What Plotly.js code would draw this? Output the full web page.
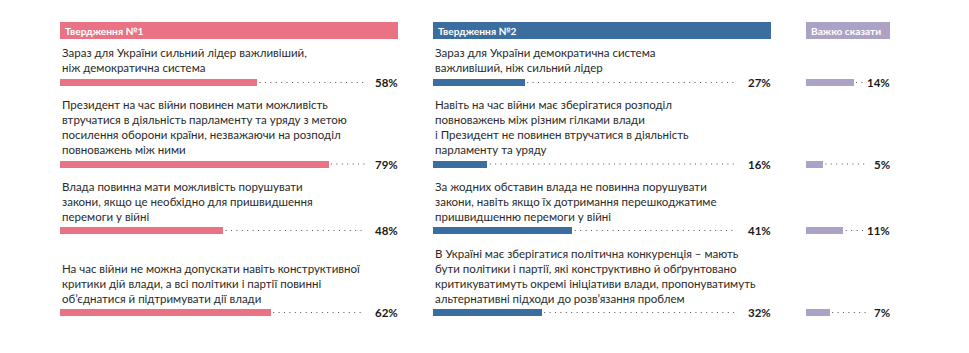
<!DOCTYPE html>
<html>
<head>
<meta charset="utf-8">
<script src="https://cdn.plot.ly/plotly-3.0.1.min.js"></script>
<style>html,body{margin:0;padding:0;background:#fff;}#chart{width:969px;height:353px;}</style>
</head>
<body>
<div id="chart"></div>
<script>
// ---- data ----
const headers = ["Твердження №1", "Твердження №2", "Важко сказати"];
const statements1 = [
  "Зараз для України сильний лідер важливіший,<br>ніж демократична система",
  "Президент на час війни повинен мати можливість<br>втручатися в діяльність парламенту та уряду з метою<br>посилення оборони країни, незважаючи на розподіл<br>повноважень між ними",
  "Влада повинна мати можливість порушувати<br>закони, якщо це необхідно для пришвидшення<br>перемоги у війні",
  "На час війни не можна допускати навіть конструктивної<br>критики дій влади, а всі політики і партії повинні<br>об’єднатися й підтримувати дії влади"
];
const values1 = [58, 79, 48, 62];
const statements2 = [
  "Зараз для України демократична система<br>важливіший, ніж сильний лідер",
  "Навіть на час війни має зберігатися розподіл<br>повноважень між різним гілками влади<br>і Президент не повинен втручатися в діяльність<br>парламенту та уряду",
  "За жодних обставин влада не повинна порушувати<br>закони, навіть якщо їх дотримання перешкоджатиме<br>пришвидшенню перемоги у війні",
  "В Україні має зберігатися політична конкуренція – мають<br>бути політики і партії, які конструктивно й обґрунтовано<br>критикуватимуть окремі ініціативи влади, пропонуватимуть<br>альтернативні підходи до розв’язання проблем"
];
const values2 = [27, 16, 41, 32];
const valuesHard = [14, 5, 11, 7];

// ---- layout constants ----
const W = 969, H = 353;
const rowY = [82.5, 164, 230.5, 312.5];
const pxPerUnit = 3.4;
const panels = [
  {left: 60, right: 398, dotEnd: 365, color: "#E97384", axis: "x"},
  {left: 433, right: 771, dotEnd: 735, color: "#3B6E9E", axis: "x2"},
  {left: 806, right: 890, dotEnd: 867, color: "#ACA2C5", axis: "x3"}
];
const panelValues = [values1, values2, valuesHard];
const panelTexts = [statements1, statements2, null];
const FONT = "Lato, 'Open Sans', sans-serif";
const toUnits = (p, px) => (px - p.left) / pxPerUnit;

const traces = [];
const shapes = [];
const annotations = [];

panels.forEach((p, i) => {
  const vals = panelValues[i];
  traces.push({
    type: "bar", orientation: "h",
    x: vals, y: rowY, width: 7,
    marker: {color: p.color, line: {width: 0}},
    xaxis: p.axis, yaxis: "y",
    hoverinfo: "skip", showlegend: false
  });
  const dx = [], dy = [];
  vals.forEach((v, k) => {
    dx.push(v + 0.7, toUnits(p, p.dotEnd), null);
    dy.push(rowY[k], rowY[k], null);
  });
  traces.push({
    type: "scatter", mode: "lines", x: dx, y: dy,
    line: {color: "#555", width: 1.1, dash: "1px,4.4px"},
    xaxis: p.axis, yaxis: "y", hoverinfo: "skip", showlegend: false
  });
  // header
  shapes.push({
    type: "rect", xref: p.axis, yref: "y",
    x0: 0, x1: toUnits(p, p.right), y0: 22, y1: 39,
    fillcolor: p.color, line: {width: 0}, layer: "below"
  });
  annotations.push({
    xref: p.axis, yref: "y", x: toUnits(p, p.left + 3), y: 30.5,
    xanchor: "left", yanchor: "middle", showarrow: false,
    text: "<b>" + headers[i] + "</b>",
    font: {family: FONT, size: 10.2, color: "#ffffff"}
  });
  vals.forEach((v, k) => {
    annotations.push({
      xref: p.axis, yref: "y", x: toUnits(p, p.right + 2), y: rowY[k],
      xanchor: "right", yanchor: "middle", showarrow: false,
      text: "<b>" + v + "%</b>",
      font: {family: FONT, size: 11.5, color: "#1a1a1a"}
    });
    if (panelTexts[i]) {
      annotations.push({
        xref: p.axis, yref: "y", x: 0, y: rowY[k] - 6,
        xanchor: "left", yanchor: "bottom", align: "left", showarrow: false,
        text: panelTexts[i][k],
        font: {family: FONT, size: 11.5, color: "#2a2a2a"}
      });
    }
  });
});

const axisBase = {visible: false, showgrid: false, zeroline: false, fixedrange: true};
const layout = {
  width: W, height: H,
  margin: {l: 0, r: 0, t: 0, b: 0},
  paper_bgcolor: "#ffffff", plot_bgcolor: "rgba(0,0,0,0)",
  showlegend: false, bargap: 0,
  xaxis: Object.assign({}, axisBase, {domain: [60 / W, 400 / W], range: [0, 100], anchor: "y"}),
  xaxis2: Object.assign({}, axisBase, {domain: [433 / W, 773 / W], range: [0, 100], anchor: "y"}),
  xaxis3: Object.assign({}, axisBase, {domain: [806 / W, 1], range: [0, (W - 806) / pxPerUnit], anchor: "y"}),
  yaxis: Object.assign({}, axisBase, {domain: [0, 1], range: [H, 0], anchor: "x"}),
  shapes: shapes,
  annotations: annotations
};

Plotly.newPlot("chart", traces, layout, {staticPlot: true, displayModeBar: false});
</script>
</body>
</html>
